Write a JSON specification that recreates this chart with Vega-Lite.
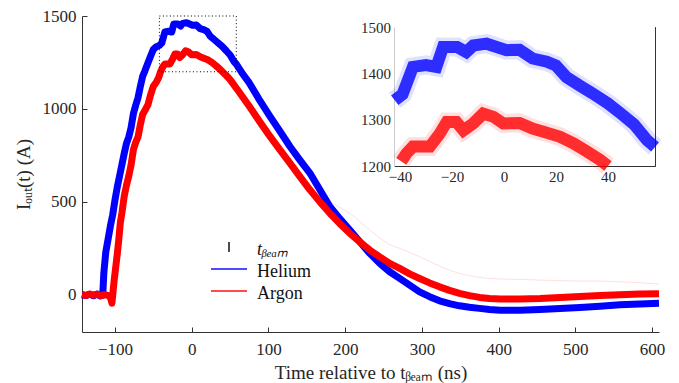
{
  "$schema": "https://vega.github.io/schema/vega-lite/v6.json",
  "width": 577,
  "height": 316,
  "autosize": {"type": "none"},
  "padding": {"left": 82, "top": 16, "right": 20, "bottom": 51},
  "background": "white",
  "config": {
    "view": {"stroke": null},
    "font": "Liberation Serif",
    "axis": {"grid": false, "domainColor": "#333333", "tickColor": "#333333", "labelColor": "#262626", "titleColor": "#262626", "labelFont": "Liberation Serif", "titleFont": "Liberation Serif", "titleFontWeight": "normal", "domainWidth": 1, "tickWidth": 1, "labelFlush": false, "format": "d"},
    "legend": {"labelFont": "Liberation Serif"}
  },
  "datasets": {
    "helium": [
      {"t":-143,"I":0},{"t":-138,"I":-4},{"t":-133,"I":3},{"t":-128,"I":-5},{"t":-123,"I":4},{"t":-119,"I":-6},{"t":-116,"I":-2},{"t":-114.5,"I":120},{"t":-112,"I":230},{"t":-109,"I":300},{"t":-106,"I":370},{"t":-103,"I":430},{"t":-100,"I":510},{"t":-97,"I":580},{"t":-94,"I":640},{"t":-91,"I":700},{"t":-88,"I":760},{"t":-85,"I":815},{"t":-82,"I":850},{"t":-79,"I":900},{"t":-76,"I":975},{"t":-73,"I":1020},{"t":-70,"I":1060},{"t":-67,"I":1120},{"t":-64,"I":1175},{"t":-61,"I":1205},{"t":-57,"I":1248},{"t":-53,"I":1290},{"t":-50,"I":1320},{"t":-46,"I":1335},{"t":-42,"I":1342},{"t":-39,"I":1355},{"t":-36.5,"I":1392},{"t":-35,"I":1414},{"t":-30,"I":1418},{"t":-26,"I":1414},{"t":-23.4,"I":1457},{"t":-18,"I":1457},{"t":-14.5,"I":1446},{"t":-11.8,"I":1460},{"t":-6.7,"I":1464},{"t":-2.8,"I":1457},{"t":1,"I":1450},{"t":6,"I":1451},{"t":11,"I":1432},{"t":16.5,"I":1425},{"t":20,"I":1417},{"t":24,"I":1392},{"t":29,"I":1374},{"t":34,"I":1357},{"t":40,"I":1335},{"t":45,"I":1313},{"t":50,"I":1290},{"t":55,"I":1256},{"t":58.1,"I":1241},{"t":67,"I":1185},{"t":75,"I":1140},{"t":88,"I":1050},{"t":102,"I":960},{"t":115,"I":880},{"t":128,"I":798},{"t":141,"I":725},{"t":154,"I":655},{"t":167,"I":565},{"t":180,"I":475},{"t":193,"I":410},{"t":206,"I":349},{"t":219,"I":285},{"t":232,"I":223},{"t":245,"I":170},{"t":258,"I":124},{"t":271,"I":88},{"t":284,"I":52},{"t":297,"I":16},{"t":310,"I":-10},{"t":323,"I":-32},{"t":336,"I":-47},{"t":349,"I":-59},{"t":362,"I":-67},{"t":375,"I":-73},{"t":388,"I":-79},{"t":402,"I":-83},{"t":428,"I":-83},{"t":454,"I":-79},{"t":480,"I":-73},{"t":506,"I":-68},{"t":532,"I":-61},{"t":558,"I":-54},{"t":584,"I":-49},{"t":609,"I":-45}
    ],
    "argon": [
      {"t":-143,"I":2},{"t":-138,"I":-3},{"t":-133,"I":4},{"t":-128,"I":-2},{"t":-123,"I":3},{"t":-118,"I":-4},{"t":-113,"I":2},{"t":-108,"I":-5},{"t":-105.5,"I":-20},{"t":-104,"I":-45},{"t":-102.5,"I":20},{"t":-101,"I":80},{"t":-99,"I":150},{"t":-97,"I":220},{"t":-95,"I":300},{"t":-93,"I":390},{"t":-91,"I":440},{"t":-88,"I":530},{"t":-85,"I":590},{"t":-82,"I":640},{"t":-79,"I":700},{"t":-76,"I":781},{"t":-73,"I":820},{"t":-70,"I":850},{"t":-67,"I":915},{"t":-64,"I":970},{"t":-60,"I":1000},{"t":-57,"I":1023},{"t":-54,"I":1070},{"t":-50,"I":1122},{"t":-46,"I":1145},{"t":-43,"I":1170},{"t":-41,"I":1195},{"t":-39.5,"I":1210},{"t":-37.5,"I":1227},{"t":-35,"I":1242},{"t":-28.5,"I":1242},{"t":-24.7,"I":1270},{"t":-22,"I":1295},{"t":-18.3,"I":1295},{"t":-15.6,"I":1277},{"t":-11.8,"I":1292},{"t":-8,"I":1313},{"t":-4,"I":1306},{"t":-0.3,"I":1292},{"t":6,"I":1293},{"t":11,"I":1281},{"t":16.5,"I":1272},{"t":21.6,"I":1263},{"t":26.7,"I":1249},{"t":32,"I":1231},{"t":37,"I":1213},{"t":40,"I":1200},{"t":45,"I":1180},{"t":50,"I":1158},{"t":62,"I":1090},{"t":75,"I":1014},{"t":88,"I":935},{"t":102,"I":852},{"t":115,"I":780},{"t":128,"I":709},{"t":141,"I":636},{"t":154,"I":565},{"t":167,"I":500},{"t":180,"I":439},{"t":193,"I":383},{"t":206,"I":331},{"t":219,"I":285},{"t":232,"I":241},{"t":245,"I":204},{"t":258,"I":169},{"t":271,"I":142},{"t":284,"I":113},{"t":297,"I":88},{"t":310,"I":64},{"t":323,"I":43},{"t":336,"I":24},{"t":349,"I":8},{"t":362,"I":-4},{"t":375,"I":-14},{"t":388,"I":-20},{"t":402,"I":-23},{"t":428,"I":-23},{"t":454,"I":-20},{"t":480,"I":-14},{"t":506,"I":-9},{"t":532,"I":-3},{"t":558,"I":0},{"t":584,"I":4},{"t":609,"I":6}
    ],
    "pink": [
      {"t":165,"I":530},{"t":180,"I":500},{"t":193,"I":470},{"t":206,"I":439},{"t":219,"I":395},{"t":232,"I":349},{"t":245,"I":305},{"t":258,"I":270},{"t":271,"I":250},{"t":284,"I":228},{"t":297,"I":205},{"t":310,"I":180},{"t":323,"I":155},{"t":336,"I":133},{"t":349,"I":115},{"t":362,"I":103},{"t":375,"I":94},{"t":388,"I":88},{"t":402,"I":85},{"t":428,"I":83},{"t":454,"I":79},{"t":480,"I":76},{"t":506,"I":74},{"t":532,"I":74},{"t":558,"I":70},{"t":584,"I":65},{"t":609,"I":58}
    ],
    "box": [{"t1": -42.1, "t2": 58.1, "i1": 1200, "i2": 1500}]
  },
  "layer": [
    {
      "layer": [
        {
          "data": {"name": "pink"},
          "mark": {"type": "line", "color": "#ff0000", "opacity": 0.13, "strokeWidth": 1},
          "encoding": {
            "x": {"field": "t", "type": "quantitative", "title": "Time relative to tᵦₑₐₘ (ns)",
              "scale": {"domain": [-143, 609], "nice": false, "zero": false},
              "axis": {"values": [-100, 0, 100, 200, 300, 400, 500, 600], "tickSize": -5, "labelPadding": 14, "labelFontSize": 17, "titleFontSize": 19, "titlePadding": 6}},
            "y": {"field": "I", "type": "quantitative", "title": "Iₒᵤₜ(t) (A)",
              "scale": {"domain": [-200, 1500], "nice": false, "zero": false},
              "axis": {"values": [0, 500, 1000, 1500], "tickSize": -5, "labelPadding": 11, "labelFontSize": 17, "titleFontSize": 19, "titlePadding": 9}}
          }
        },
        {
          "data": {"name": "helium"},
          "mark": {"type": "line", "strokeWidth": 7, "strokeJoin": "round"},
          "encoding": {
            "x": {"field": "t", "type": "quantitative"},
            "y": {"field": "I", "type": "quantitative"},
            "color": {"datum": "Helium", "type": "nominal",
              "scale": {"domain": ["tbeam", "Helium", "Argon"], "range": ["#000000", "#0000ff", "#ff0000"]},
              "legend": {"orient": "none", "legendX": 137, "legendY": 221, "title": null, "symbolSize": 324, "symbolStrokeWidth": 2, "symbolOpacity": 0.7, "labelFontSize": 18, "labelFont": "Liberation Serif", "labelOffset": 18, "rowPadding": -6, "labelColor": "#111111",
                "labelExpr": "datum.value === 'tbeam' ? 'tᵦₑₐₘ' : datum.label",
                "encode": {
                  "symbols": {"update": {"shape": {"signal": "datum.value === 'tbeam' ? 'M0,-0.55L0,0.55' : 'M-2,0L2,0'"}}},
                  "labels": {"update": {"fontStyle": {"signal": "datum.value === 'tbeam' ? 'italic' : 'normal'"}, "dy": {"value": 3}}}
                }}}
          }
        },
        {
          "data": {"name": "argon"},
          "mark": {"type": "line", "strokeWidth": 7, "strokeJoin": "round"},
          "encoding": {
            "x": {"field": "t", "type": "quantitative"},
            "y": {"field": "I", "type": "quantitative"},
            "color": {"datum": "Argon", "type": "nominal"}
          }
        },
        {
          "data": {"name": "box"},
          "mark": {"type": "rect", "fill": null, "stroke": "#000000", "strokeWidth": 1, "strokeDash": [1, 2.5]},
          "encoding": {
            "x": {"field": "t1", "type": "quantitative"},
            "x2": {"field": "t2"},
            "y": {"field": "i1", "type": "quantitative"},
            "y2": {"field": "i2"}
          }
        },
        {
          "mark": {"type": "rule", "color": "#808080", "strokeWidth": 1.3, "strokeDash": [10, 6]},
          "encoding": {"x": {"datum": 0, "type": "quantitative"}}
        }
      ]
    },
    {
      "data": {"name": "box"},
      "mark": {"type": "rect", "fill": "#ffffff", "stroke": null},
      "encoding": {
        "x": {"field": "t1", "type": "quantitative", "scale": {"domain": [-42.1, 58.1], "range": [312.5, 573], "nice": false, "zero": false},
          "axis": {"orient": "top", "offset": -11, "values": [-40, -20, 0, 20, 40], "tickSize": -4, "labels": false, "title": null}},
        "x2": {"field": "t2"},
        "y": {"field": "i1", "type": "quantitative", "scale": {"domain": [1200, 1500], "range": [150, 11], "nice": false, "zero": false},
          "axis": {"orient": "right", "offset": -4, "values": [1200, 1300, 1400, 1500], "tickSize": -4, "labels": false, "title": null}},
        "y2": {"field": "i2"}
      }
    },
    {
      "layer": [
        {
          "data": {"name": "helium"},
          "transform": [{"filter": "datum.t >= -42.2 && datum.t <= 58.2 && datum.I >= 1200"}],
          "mark": {"type": "line", "color": "#0000ff", "opacity": 0.12, "strokeWidth": 19},
          "encoding": {
            "x": {"field": "t", "type": "quantitative", "scale": {"domain": [-42.1, 58.1], "range": [312.5, 573], "nice": false, "zero": false},
              "axis": {"orient": "bottom", "offset": -166, "values": [-40, -20, 0, 20, 40], "tickSize": -4, "labelPadding": 7, "labelFontSize": 15, "title": null}},
            "y": {"field": "I", "type": "quantitative", "scale": {"domain": [1200, 1500], "range": [150, 11], "nice": false, "zero": false},
              "axis": {"orient": "left", "offset": -312.5, "values": [1200, 1300, 1400, 1500], "tickSize": -4, "labelPadding": 8, "labelFontSize": 15, "title": null}}
          }
        },
        {
          "data": {"name": "helium"},
          "transform": [{"filter": "datum.t >= -42.2 && datum.t <= 58.2 && datum.I >= 1200"}],
          "mark": {"type": "line", "color": "#0000ff", "opacity": 0.8, "strokeWidth": 12},
          "encoding": {"x": {"field": "t", "type": "quantitative"}, "y": {"field": "I", "type": "quantitative"}}
        },
        {
          "data": {"name": "argon"},
          "transform": [{"filter": "datum.t >= -42.2 && datum.t <= 58.2 && datum.I >= 1200"}],
          "mark": {"type": "line", "color": "#ff0000", "opacity": 0.12, "strokeWidth": 19},
          "encoding": {"x": {"field": "t", "type": "quantitative"}, "y": {"field": "I", "type": "quantitative"}}
        },
        {
          "data": {"name": "argon"},
          "transform": [{"filter": "datum.t >= -42.2 && datum.t <= 58.2 && datum.I >= 1200"}],
          "mark": {"type": "line", "color": "#ff0000", "opacity": 0.8, "strokeWidth": 12},
          "encoding": {"x": {"field": "t", "type": "quantitative"}, "y": {"field": "I", "type": "quantitative"}}
        },
        {
          "mark": {"type": "rule", "color": "#333333", "strokeWidth": 1, "strokeDash": [10, 5]},
          "encoding": {"x": {"datum": 0, "type": "quantitative"}, "y": {"datum": 1200, "type": "quantitative"}, "y2": {"datum": 1500}}
        }
      ]
    }
  ],
  "resolve": {"scale": {"x": "independent", "y": "independent"}, "axis": {"x": "independent", "y": "independent"}}
}
